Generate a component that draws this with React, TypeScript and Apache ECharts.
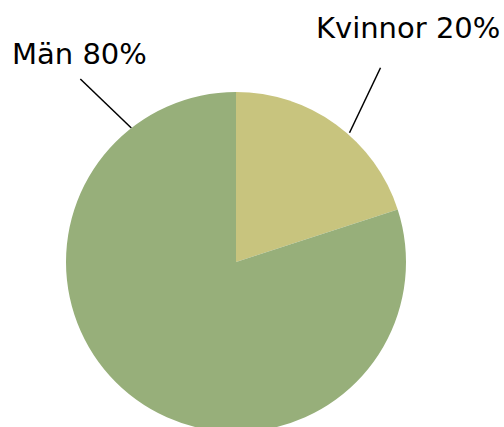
import React, { useEffect, useRef } from "react";
import * as echarts from "echarts";

const categories = ["Kvinnor", "Män"];
const values = [20, 80];
const colors = ["#C8C47E", "#97AF7A"];

const CENTER = [236, 262];
const RADIUS = 170;
// label placement (style only)
const labelPlacement = [
  { x: 316, y: 28, a0: 48.7, r0: 172, dx: 31, dy: -65 },
  { x: 12, y: 54, a0: 128, r0: 170, dx: -51, dy: -49 },
];

function polar(angleDeg: number, r: number): number[] {
  const a = (angleDeg * Math.PI) / 180;
  return [CENTER[0] + r * Math.cos(a), CENTER[1] - r * Math.sin(a)];
}

export default function App() {
  const ref = useRef<HTMLDivElement>(null);
  useEffect(() => {
    document.body.style.margin = "0";
    const chart = echarts.init(ref.current!, undefined, { renderer: "svg" });
    chart.setOption({
      animation: false,
      series: [
        {
          type: "pie",
          center: CENTER,
          radius: RADIUS,
          startAngle: 90,
          clockwise: true,
          silent: true,
          data: categories.map((c, i) => ({
            name: c,
            value: values[i],
            itemStyle: { color: colors[i] },
          })),
          label: {
            show: true,
            formatter: (p: any) => `${p.name} ${p.value}%`,
            fontFamily: "DejaVu Sans",
            fontSize: 29,
            color: "#000",
            overflow: "none",
          },
          labelLine: {
            show: true,
            lineStyle: { color: "#000", width: 1.5 },
          },
          labelLayout: (params: any) => {
            const pl = labelPlacement[params.dataIndex];
            const start = polar(pl.a0, pl.r0);
            const end = [start[0] + pl.dx, start[1] + pl.dy];
            return {
              x: pl.x,
              y: pl.y,
              align: "left",
              verticalAlign: "middle",
              labelLinePoints: [start, end, end],
            };
          },
        },
      ],
    });
    return () => chart.dispose();
  }, []);
  return <div ref={ref} style={{ width: 504, height: 427 }} />;
}
